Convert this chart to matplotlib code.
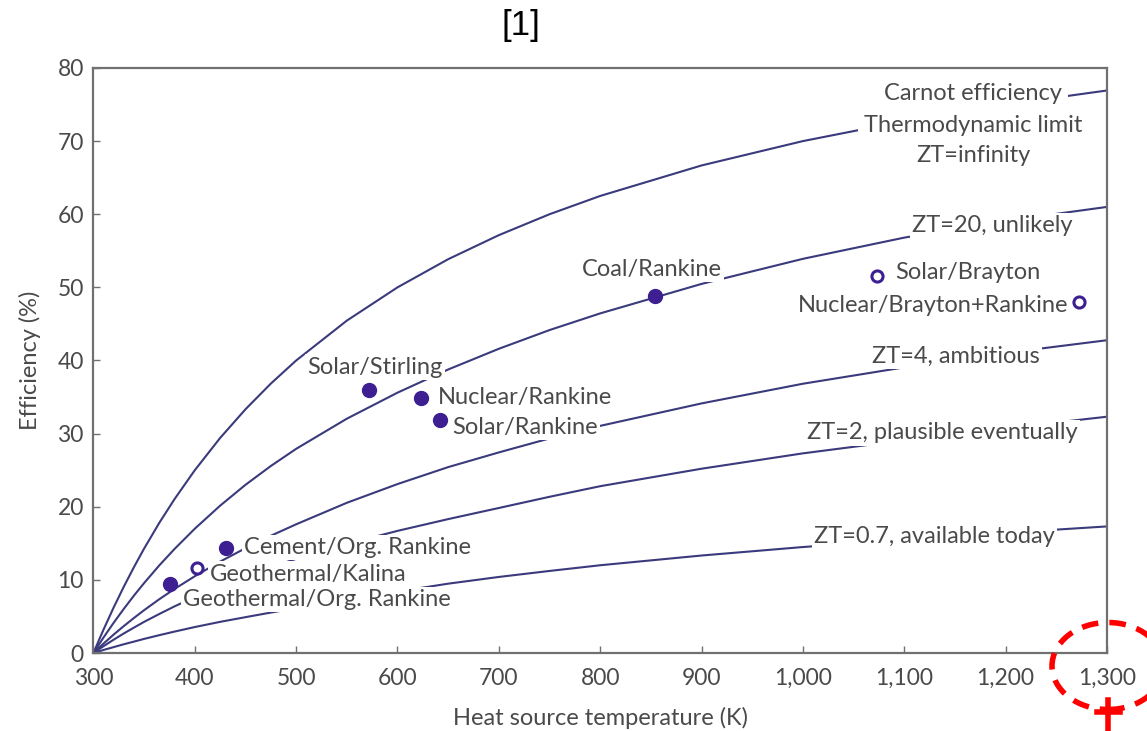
import matplotlib.pyplot as plt
from matplotlib.patches import Ellipse
from matplotlib.ticker import FuncFormatter

plt.rcParams['font.family'] = ['Lato', 'DejaVu Sans']

# heat source temperature (K) where the curves were read
temps = [300, 305, 310, 320, 330, 340, 350, 365, 380, 400, 425, 450, 475, 500,
         550, 600, 650, 700, 750, 800, 900, 1000, 1100, 1200, 1300]

# efficiency curves (%)
carnot = [0, 1.64, 3.23, 6.25, 9.09, 11.76, 14.29, 17.81, 21.05, 25.0, 29.41, 33.33, 36.84, 40.0,
          45.45, 50.0, 53.85, 57.14, 60.0, 62.5, 66.67, 70.0, 72.73, 75.0, 76.92]
zt20 = [0, 1.08, 2.14, 4.15, 6.05, 7.86, 9.57, 11.99, 14.23, 17.0, 20.15, 23.0, 25.57, 27.92,
        32.04, 35.6, 38.77, 41.6, 44.16, 46.44, 50.47, 53.9, 56.8, 59.1, 61.0]
zt4 = [0, 0.66, 1.30, 2.53, 3.69, 4.80, 5.86, 7.36, 8.76, 10.5, 12.5, 14.33, 16.03, 17.6,
       20.54, 23.1, 25.42, 27.43, 29.34, 31.06, 34.13, 36.82, 39.06, 41.03, 42.77]
zt2 = [0, 0.48, 0.94, 1.83, 2.68, 3.48, 4.26, 5.34, 6.38, 7.65, 9.12, 10.47, 11.72, 12.88,
       14.91, 16.7, 18.31, 19.83, 21.36, 22.81, 25.2, 27.3, 29.09, 30.75, 32.31]
zt07 = [0, 0.21, 0.42, 0.81, 1.20, 1.56, 1.93, 2.44, 2.93, 3.55, 4.26, 4.9, 5.53, 6.12,
        7.32, 8.4, 9.48, 10.4, 11.22, 12.0, 13.33, 14.49, 15.49, 16.43, 17.31]

# power plants
filled_names = ["Geothermal/Org. Rankine", "Cement/Org. Rankine", "Solar/Stirling",
                "Nuclear/Rankine", "Solar/Rankine", "Coal/Rankine"]
filled_T = [376, 431, 572, 623, 642, 854]
filled_eff = [9.4, 14.4, 36.0, 34.9, 31.9, 48.8]

open_names = ["Geothermal/Kalina", "Solar/Brayton", "Nuclear/Brayton+Rankine"]
open_T = [402, 1073, 1273]
open_eff = [11.6, 51.6, 48.0]

line_c = '#3a3a7c'
dot_c = '#3d1f91'
txt_c = '#4a4a4a'
spine_c = '#707070'

fig = plt.figure(figsize=(11.47, 7.31), dpi=100)
ax = fig.add_axes([0.0815, 0.1067, 0.8835, 0.8003])

for curve in [carnot, zt20, zt4, zt2, zt07]:
    ax.plot(temps, curve, color=line_c, lw=1.5, zorder=2)

ax.plot(filled_T, filled_eff, 'o', color=dot_c, ms=10, zorder=5)
ax.plot(open_T, open_eff, 'o', mfc='white', mec=dot_c, mew=2.2, ms=8, zorder=5)

fs = 17

def lab(x, y, s, ha='center', pad=1.5):
    ax.text(x, y, s, ha=ha, va='center', fontsize=fs, color=txt_c,
            bbox=dict(fc='white', ec='none', pad=pad), zorder=4)

# curve labels
lab(1168, 76.5, "Carnot efficiency", pad=4)
lab(1168, 72.2, "Thermodynamic limit", pad=4)
lab(1168, 68.0, "ZT=infinity", pad=4)
lab(1187, 58.4, "ZT=20, unlikely")
lab(1151, 40.5, "ZT=4, ambitious")
lab(1138, 30.1, "ZT=2, plausible eventually")
lab(1130, 15.9, "ZT=0.7, available today")

# point labels
lab(851, 52.5, "Coal/Rankine")
lab(578, 39.1, "Solar/Stirling")
lab(640, 34.9, "Nuclear/Rankine", ha='left')
lab(654, 30.9, "Solar/Rankine", ha='left')
lab(449, 14.4, "Cement/Org. Rankine", ha='left')
lab(415, 10.8, "Geothermal/Kalina", ha='left')
lab(388, 7.3, "Geothermal/Org. Rankine", ha='left')
lab(1091, 52.0, "Solar/Brayton", ha='left')
lab(1262, 47.5, "Nuclear/Brayton+Rankine", ha='right')

ax.set_xlim(300, 1300)
ax.set_ylim(0, 80)
ax.set_xticks(range(300, 1301, 100))
ax.set_yticks(range(0, 81, 10))
ax.xaxis.set_major_formatter(FuncFormatter(lambda v, p: '{:,.0f}'.format(v)))
ax.tick_params(direction='in', length=5, width=1, color=spine_c, labelsize=16.5,
               labelcolor=txt_c)
ax.tick_params(axis='x', pad=11)
ax.tick_params(axis='y', pad=7)
for s in ax.spines.values():
    s.set_color(spine_c)
    s.set_linewidth(1.6)

ax.set_xlabel("Heat source temperature (K)", fontsize=17, color=txt_c, labelpad=13)
ax.set_ylabel("Efficiency (%)", fontsize=17, color=txt_c, labelpad=12)

fig.text(0.454, 0.965, "[1]", ha='center', va='center', fontsize=25,
         family='Liberation Sans', color='black')

# red marking around the last tick
fig.patches.append(Ellipse((1108 / 1147, 1 - 666 / 731), 112 / 1147, 87 / 731,
                           transform=fig.transFigure, fill=False, ec='red',
                           lw=4, ls=(0, (3, 2))))
fig.add_artist(plt.Line2D([1108 / 1147, 1108 / 1147], [1 - 700 / 731, 0],
                          transform=fig.transFigure, color='red', lw=4))
fig.add_artist(plt.Line2D([1097 / 1147, 1120 / 1147], [1 - 712 / 731, 1 - 712 / 731],
                          transform=fig.transFigure, color='red', lw=4))

fig.savefig('out.png', dpi=100)
